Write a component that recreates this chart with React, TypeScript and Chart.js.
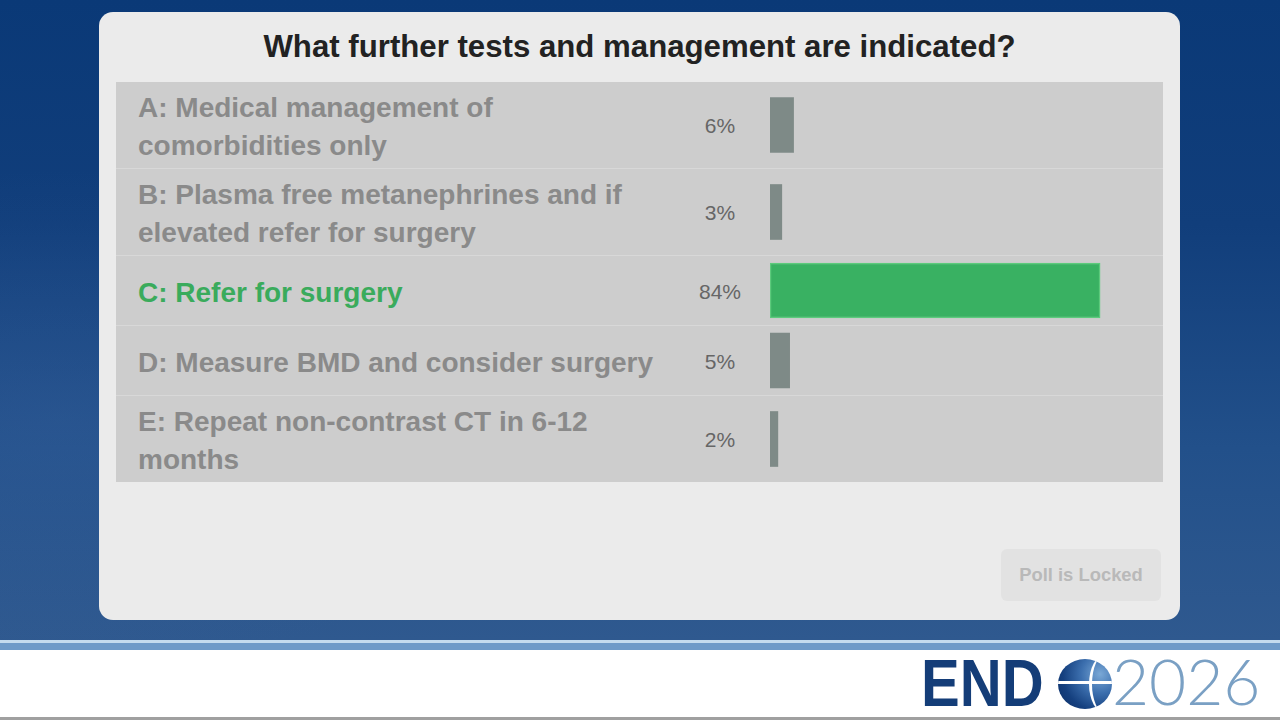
import React, { useEffect, useRef } from "react";
import { Chart, registerables } from "chart.js";

Chart.register(...registerables);

const title = "What further tests and management are indicated?";
const categories = [
  "A: Medical management of comorbidities only",
  "B: Plasma free metanephrines and if elevated refer for surgery",
  "C: Refer for surgery",
  "D: Measure BMD and consider surgery",
  "E: Repeat non-contrast CT in 6-12 months",
];
const percentages = [6, 3, 84, 5, 2];
const correctIndex = 2;
const axisMax = 100;
const buttonLabel = "Poll is Locked";

const GREY_BAR = "#7e8a87";
const GREEN_BAR = "#39b162";
const GREEN_BORDER = "#5ccb7c";
const FONT = "'Liberation Sans', Arial, Helvetica, sans-serif";

function RowBar({ value, correct, label }: { value: number; correct: boolean; label: string }) {
  const ref = useRef<HTMLCanvasElement | null>(null);
  useEffect(() => {
    if (!ref.current) return;
    const chart = new Chart(ref.current, {
      type: "bar",
      data: {
        labels: [label],
        datasets: [
          {
            data: [value],
            backgroundColor: correct ? GREEN_BAR : GREY_BAR,
            borderColor: correct ? GREEN_BORDER : GREY_BAR,
            borderWidth: correct ? 1.5 : 0,
            borderSkipped: false,
            barThickness: 55,
          },
        ],
      },
      options: {
        indexAxis: "y",
        animation: false,
        responsive: true,
        maintainAspectRatio: false,
        layout: { padding: 0 },
        plugins: { legend: { display: false }, tooltip: { enabled: false } },
        scales: {
          x: { display: false, min: 0, max: axisMax },
          y: { display: false },
        },
      },
    });
    return () => chart.destroy();
  }, [value, correct, label]);
  return (
    <div style={{ position: "absolute", inset: 0 }}>
      <canvas ref={ref} />
    </div>
  );
}

function Globe() {
  return (
    <div
      style={{
        position: "absolute",
        left: 1058,
        top: 659,
        width: 54,
        height: 50,
        borderRadius: "50%",
        overflow: "hidden",
        background:
          "radial-gradient(circle at 78% 30%, #7aa8d6 0%, #3c6fae 35%, #15407f 68%, #0c2d63 100%)",
      }}
    >
      <div style={{ position: "absolute", left: 0, right: 0, top: 22, height: 3, background: "#fff" }} />
      <div
        style={{
          position: "absolute",
          left: 31,
          top: -4,
          width: 32,
          height: 58,
          borderRadius: "50%",
          borderLeft: "3px solid #fff",
          boxSizing: "border-box",
        }}
      />
    </div>
  );
}

export default function App() {
  return (
    <div
      style={{
        position: "fixed",
        left: 0,
        top: 0,
        width: 1280,
        height: 720,
        overflow: "hidden",
        fontFamily: FONT,
        background: "#fff",
      }}
    >
      {/* background */}
      <div
        style={{
          position: "absolute",
          left: 0,
          top: 0,
          width: 1280,
          height: 641,
          background:
            "radial-gradient(ellipse 500px 250px at 60px 420px, rgba(60,100,160,0.3), rgba(0,0,0,0)), linear-gradient(180deg, #0a3977 0%, #113e7b 35%, #22508a 70%, #2f598f 100%)",
        }}
      />
      <div style={{ position: "absolute", left: 0, top: 640, width: 1280, height: 3, background: "#c4dcee" }} />
      <div style={{ position: "absolute", left: 0, top: 643, width: 1280, height: 7, background: "#6e9bc8" }} />
      <div style={{ position: "absolute", left: 0, top: 717, width: 1280, height: 3, background: "#a0a0a0" }} />

      {/* logo */}
      <div
        style={{
          position: "absolute",
          left: 921,
          top: 650,
          fontSize: 66,
          lineHeight: "66px",
          fontWeight: 700,
          color: "#143d78",
          transform: "scaleX(0.88)",
          transformOrigin: "left top",
        }}
      >
        END
      </div>
      <Globe />
      <div
        style={{
          position: "absolute",
          left: 1112,
          top: 648,
          fontSize: 64,
          lineHeight: "66px",
          fontWeight: 300,
          fontFamily: "Lato, 'Open Sans', sans-serif",
          color: "#7aa0c4",
        }}
      >
        2026
      </div>

      {/* panel */}
      <div
        style={{
          position: "absolute",
          left: 99,
          top: 12,
          width: 1081,
          height: 608,
          borderRadius: 14,
          background: "#ebebeb",
        }}
      >
        <div
          style={{
            position: "absolute",
            left: 0,
            top: 0,
            width: 1081,
            height: 70,
            lineHeight: "70px",
            textAlign: "center",
            fontSize: 31.2,
            fontWeight: 700,
            color: "#222",
          }}
        >
          {title}
        </div>

        <div style={{ position: "absolute", left: 17, top: 70, width: 1047, background: "#cdcdcd" }}>
          {categories.map((c, i) => {
            const correct = i === correctIndex;
            return (
              <div
                key={c}
                style={{
                  display: "flex",
                  alignItems: "center",
                  boxSizing: "border-box",
                  minHeight: 70,
                  padding: "5px 0",
                  borderTop: i === 0 ? "none" : "1px solid #d8d8d8",
                }}
              >
                <div
                  style={{
                    width: 532,
                    paddingLeft: 22,
                    flex: "none",
                    fontSize: 28,
                    lineHeight: "38px",
                    fontWeight: 700,
                    position: "relative",
                    top: 2,
                    color: correct ? "#3aab5c" : "#8a8a8a",
                  }}
                >
                  {c}
                </div>
                <div
                  style={{
                    width: 100,
                    flex: "none",
                    textAlign: "center",
                    fontSize: 21,
                    position: "relative",
                    top: 1,
                    color: "#666",
                  }}
                >
                  {percentages[i]}%
                </div>
                <div style={{ position: "relative", width: 393, flex: "none", alignSelf: "stretch" }}>
                  <RowBar value={percentages[i]} correct={correct} label={c} />
                </div>
              </div>
            );
          })}
        </div>

        <div
          style={{
            position: "absolute",
            left: 902,
            top: 537,
            width: 160,
            height: 52,
            borderRadius: 6,
            background: "#e2e2e2",
            color: "#b9b9b9",
            fontSize: 18.4,
            fontWeight: 700,
            lineHeight: "52px",
            textAlign: "center",
          }}
        >
          {buttonLabel}
        </div>
      </div>
    </div>
  );
}
